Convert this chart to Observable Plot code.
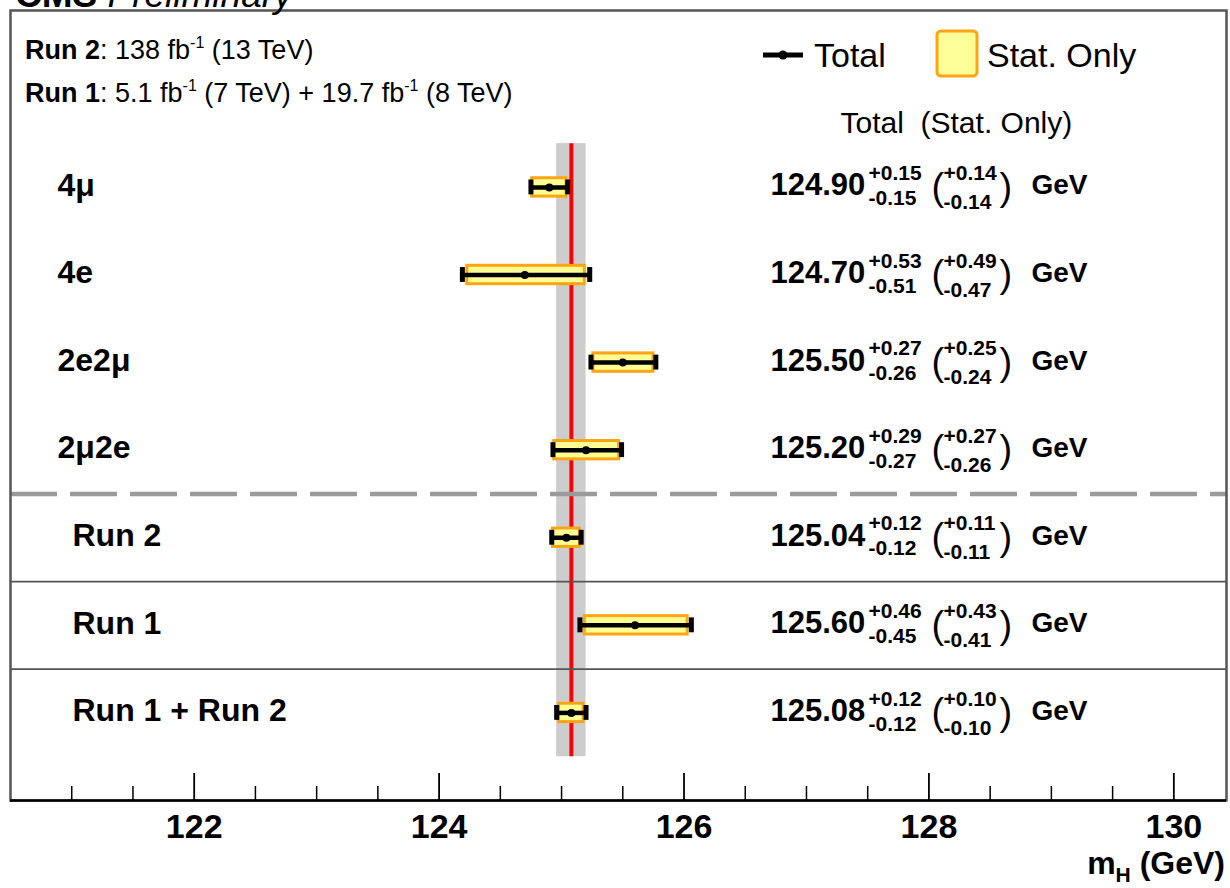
<!DOCTYPE html>
<html><head><meta charset="utf-8">
<script src="https://cdn.jsdelivr.net/npm/d3@7"></script>
<script src="https://cdn.jsdelivr.net/npm/@observablehq/plot@0.6"></script>
<style>html,body{margin:0;padding:0;background:#fff;} svg{display:block}</style>
</head><body><div id="chart"></div>
<script>
// ---- data ----
const channels = ["4μ", "4e", "2e2μ", "2μ2e", "Run 2", "Run 1", "Run 1 + Run 2"];
const groups   = ["channel", "channel", "channel", "channel", "run", "run", "run"];
const mass     = [124.90, 124.70, 125.50, 125.20, 125.04, 125.60, 125.08];
const totUp    = [0.15, 0.53, 0.27, 0.29, 0.12, 0.46, 0.12];
const totDn    = [0.15, 0.51, 0.26, 0.27, 0.12, 0.45, 0.12];
const statUp   = [0.14, 0.49, 0.25, 0.27, 0.11, 0.43, 0.10];
const statDn   = [0.14, 0.47, 0.24, 0.26, 0.11, 0.41, 0.10];
const xTicks   = [122, 124, 126, 128, 130];
const xMinor   = d3.range(121, 130.01, 0.5).filter(v => !xTicks.includes(v));

const rows = channels.map((label, i) => ({
  label, i, group: groups[i], m: mass[i],
  tu: totUp[i], td: totDn[i], su: statUp[i], sd: statDn[i]
}));
const comb = rows[rows.length - 1];
const n = rows.length;
const nChan = groups.filter(g => g === "channel").length;

const FONT = "'Liberation Sans', Arial, Helvetica, sans-serif";
const W = 1230, H = 888, MT = 10, MB = 88, ML = 10, MR = 4;
const FH = H - MT - MB;

const valText = (extra) => Object.assign({
  y: "i", frameAnchor: "left", textAnchor: "start", lineAnchor: "middle", fontWeight: "bold", fill: "black"
}, extra);

const chart = Plot.plot({
  width: W, height: H,
  marginTop: MT, marginBottom: MB, marginLeft: ML, marginRight: MR,
  style: {fontFamily: FONT, background: "white", overflow: "visible"},
  x: {domain: [120.5, 130.43], axis: null},
  y: {domain: [-2.02, 7.0], reverse: true, axis: null},
  marks: [
    // combined band + line
    Plot.rect([comb], {x1: d => d.m - d.td, x2: d => d.m + d.tu, y1: () => -0.5, y2: () => n - 0.5, fill: "#cdcdcd"}),
    Plot.ruleX([comb], {x: "m", y1: () => -0.5, y2: () => n - 0.5, stroke: "#ff0000", strokeWidth: 4}),
    // separators
    Plot.ruleY([nChan - 0.5], {stroke: "#9a9a9a", strokeWidth: 4.5, strokeDasharray: "47,13"}),
    Plot.ruleY(d3.range(nChan + 0.5, n - 0.5, 1), {stroke: "#555", strokeWidth: 1.8}),
    // stat boxes
    Plot.rect(rows, {x1: d => d.m - d.sd, x2: d => d.m + d.su, y1: d => d.i - 0.105, y2: d => d.i + 0.105,
      fill: "#ffff94", stroke: "#ffa514", strokeWidth: 3}),
    // total error bars
    Plot.ruleY(rows, {y: "i", x1: d => d.m - d.td, x2: d => d.m + d.tu, stroke: "black", strokeWidth: 4.5}),
    Plot.ruleX(rows, {x: d => d.m - d.td, y1: d => d.i - 0.085, y2: d => d.i + 0.085, stroke: "black", strokeWidth: 5}),
    Plot.ruleX(rows, {x: d => d.m + d.tu, y1: d => d.i - 0.085, y2: d => d.i + 0.085, stroke: "black", strokeWidth: 5}),
    Plot.dot(rows, {x: "m", y: "i", r: 4, fill: "black"}),
    // row labels
    Plot.text(rows.filter(d => d.group === "channel"), {y: "i", text: "label", frameAnchor: "left", dx: 47, dy: -2,
      textAnchor: "start", lineAnchor: "middle", fontSize: 32, fontWeight: "bold", fill: "black"}),
    Plot.text(rows.filter(d => d.group === "run"), {y: "i", text: "label", frameAnchor: "left", dx: 62, dy: -2,
      textAnchor: "start", lineAnchor: "middle", fontSize: 32, fontWeight: "bold", fill: "black"}),
    // value labels
    Plot.text(rows, valText({text: d => d.m.toFixed(2), dx: 760, dy: -2, fontSize: 31})),
    Plot.text(rows, valText({text: d => "+" + d.tu.toFixed(2), dx: 858, dy: -14, fontSize: 21})),
    Plot.text(rows, valText({text: d => "-" + d.td.toFixed(2), dx: 858, dy: 11, fontSize: 21})),
    Plot.text(rows, valText({text: () => "(", dx: 921, dy: 0, fontSize: 38, fontWeight: "normal"})),
    Plot.text(rows, valText({text: d => "+" + d.su.toFixed(2), dx: 933, dy: -14, fontSize: 21})),
    Plot.text(rows, valText({text: d => "-" + d.sd.toFixed(2), dx: 933, dy: 15, fontSize: 21})),
    Plot.text(rows, valText({text: () => ")", dx: 989, dy: 0, fontSize: 38, fontWeight: "normal"})),
    Plot.text(rows, valText({text: () => "GeV", dx: 1021, dy: -2, fontSize: 28})),
    // header
    Plot.text(["Total\u00a0\u00a0(Stat. Only)"], {frameAnchor: "top-left", dx: 830, dy: 113, textAnchor: "start",
      lineAnchor: "middle", fontSize: 30, fill: "black"}),
    // frame & axis
    Plot.frame({stroke: "#555", strokeWidth: 2.5}),
    Plot.ruleX(xTicks, {insetTop: FH - 27, stroke: "black", strokeWidth: 1.8}),
    Plot.ruleX(xMinor, {insetTop: FH - 14, stroke: "black", strokeWidth: 1.5}),
    Plot.ruleY([7.0], {stroke: "black", strokeWidth: 2.5}),
    Plot.text(xTicks, {x: d => d, text: d => String(d), frameAnchor: "bottom", dy: 27, lineAnchor: "middle",
      fontSize: 34, fontWeight: "bold", fill: "black"})
  ]
});

document.getElementById("chart").appendChild(chart);

// ---- annotations (title, info, legend, axis label) ----
const svg = d3.select(chart);
const g = svg.append("g").attr("font-family", FONT).attr("fill", "black").attr("text-anchor", "start");

// cut-off title (clipped at the top edge, as in the original)
const t = g.append("text").attr("x", 15).attr("y", 7).attr("font-size", 37);
t.append("tspan").attr("font-weight", "bold").text("CMS");
t.append("tspan").attr("font-style", "italic").text(" Preliminary");

// info lines
function infoLine(y, parts) {
  const tx = g.append("text").attr("x", 25).attr("y", y).attr("font-size", 27).attr("xml:space", "preserve");
  parts.forEach(p => {
    const s = tx.append("tspan").text(p.t);
    if (p.b) s.attr("font-weight", "bold");
    if (p.sup) s.attr("font-size", 16).attr("dy", -11);
    if (p.down) s.attr("dy", 11);
  });
}
infoLine(59, [{t: "Run 2", b: 1}, {t: ": 138 fb"}, {t: "-1", sup: 1}, {t: " (13 TeV)", down: 1}]);
infoLine(102, [{t: "Run 1", b: 1}, {t: ": 5.1 fb"}, {t: "-1", sup: 1}, {t: " (7 TeV) + 19.7 fb", down: 1},
  {t: "-1", sup: 1}, {t: " (8 TeV)", down: 1}]);

// legend
g.append("line").attr("x1", 763).attr("x2", 803).attr("y1", 55).attr("y2", 55)
  .attr("stroke", "black").attr("stroke-width", 5);
g.append("circle").attr("cx", 783).attr("cy", 55).attr("r", 4.5).attr("fill", "black");
g.append("text").attr("x", 814).attr("y", 67).attr("font-size", 34).text("Total");
g.append("rect").attr("x", 937).attr("y", 31).attr("width", 40).attr("height", 45).attr("rx", 4)
  .attr("fill", "#ffff99").attr("stroke", "#ffa514").attr("stroke-width", 3);
g.append("text").attr("x", 987).attr("y", 67).attr("font-size", 34).text("Stat. Only");

// axis label
const al = g.append("text").attr("x", 1225).attr("y", 874).attr("text-anchor", "end")
  .attr("font-size", 32).attr("font-weight", "bold").attr("xml:space", "preserve");
al.append("tspan").text("m");
al.append("tspan").attr("font-size", 21).attr("dy", 8).text("H");
al.append("tspan").attr("dy", -8).text(" (GeV)");
</script>
</body></html>
